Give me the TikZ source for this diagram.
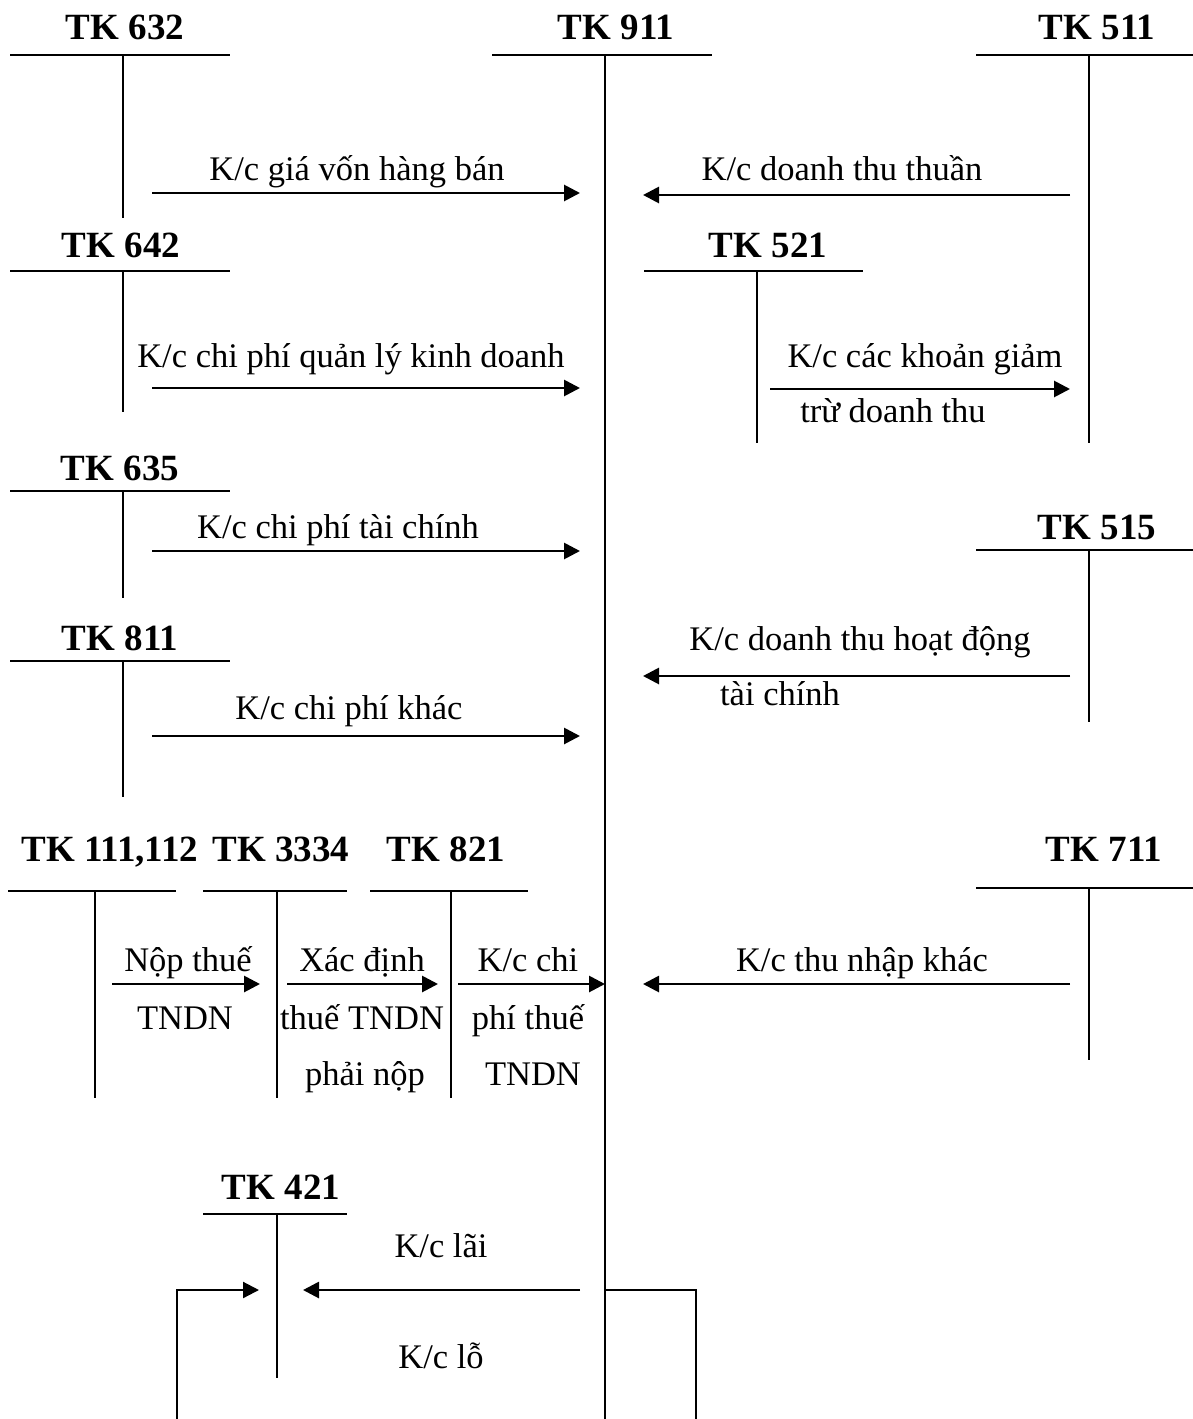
\documentclass[tikz,border=0pt]{standalone}
\usepackage{fontspec}
\setmainfont{Liberation Serif}
\usetikzlibrary{arrows.meta}
\begin{document}
\begin{tikzpicture}[x=1pt,y=-1pt,
  acc/.style={font=\fontsize{37}{41}\selectfont\bfseries, anchor=base, inner sep=0pt},
  lbl/.style={font=\fontsize{34.5}{38}\selectfont, anchor=base, inner sep=0pt},
  tline/.style={line width=2.2pt},
  flow/.style={line width=2.8pt, -{Triangle[length=16pt,width=16pt]}},
  plain/.style={line width=2.2pt}]
\useasboundingbox (0,0) rectangle (1193,1419);

% ---------- T accounts ----------
% TK 632
\node[acc] (t632) at (125,39) {TK 632};
\coordinate (h632a) at (10,55); \coordinate (h632b) at (230,55);
\coordinate (v632a) at (123,55); \coordinate (v632b) at (123,218);
\draw[tline] (h632a) -- (h632b); \draw[tline] (v632a) -- (v632b);
% TK 911
\node[acc] (t911) at (616,39) {TK 911};
\coordinate (h911a) at (492,55); \coordinate (h911b) at (712,55);
\coordinate (v911a) at (605,55); \coordinate (v911b) at (605,1419);
\draw[tline] (h911a) -- (h911b); \draw[tline] (v911a) -- (v911b);
% TK 511
\node[acc] (t511) at (1097,39) {TK 511};
\coordinate (h511a) at (976,55); \coordinate (h511b) at (1193,55);
\coordinate (v511a) at (1089,55); \coordinate (v511b) at (1089,443);
\draw[tline] (h511a) -- (h511b); \draw[tline] (v511a) -- (v511b);
% TK 642
\node[acc] (t642) at (121,257) {TK 642};
\coordinate (h642a) at (10,271); \coordinate (h642b) at (230,271);
\coordinate (v642a) at (123,271); \coordinate (v642b) at (123,412);
\draw[tline] (h642a) -- (h642b); \draw[tline] (v642a) -- (v642b);
% TK 521
\node[acc] (t521) at (768,257) {TK 521};
\coordinate (h521a) at (644,271); \coordinate (h521b) at (863,271);
\coordinate (v521a) at (757,271); \coordinate (v521b) at (757,443);
\draw[tline] (h521a) -- (h521b); \draw[tline] (v521a) -- (v521b);
% TK 635
\node[acc] (t635) at (120,480) {TK 635};
\coordinate (h635a) at (10,491); \coordinate (h635b) at (230,491);
\coordinate (v635a) at (123,491); \coordinate (v635b) at (123,598);
\draw[tline] (h635a) -- (h635b); \draw[tline] (v635a) -- (v635b);
% TK 515
\node[acc] (t515) at (1097,539) {TK 515};
\coordinate (h515a) at (976,550); \coordinate (h515b) at (1193,550);
\coordinate (v515a) at (1089,550); \coordinate (v515b) at (1089,722);
\draw[tline] (h515a) -- (h515b); \draw[tline] (v515a) -- (v515b);
% TK 811
\node[acc] (t811) at (120,650) {TK 811};
\coordinate (h811a) at (10,661); \coordinate (h811b) at (230,661);
\coordinate (v811a) at (123,661); \coordinate (v811b) at (123,797);
\draw[tline] (h811a) -- (h811b); \draw[tline] (v811a) -- (v811b);
% TK 111,112
\node[acc] (t111) at (110,861) {TK 111,112};
\coordinate (h111a) at (8,891); \coordinate (h111b) at (176,891);
\coordinate (v111a) at (95,891); \coordinate (v111b) at (95,1098);
\draw[tline] (h111a) -- (h111b); \draw[tline] (v111a) -- (v111b);
% TK 3334
\node[acc] (t3334) at (281,861) {TK 3334};
\coordinate (h3334a) at (203,891); \coordinate (h3334b) at (347,891);
\coordinate (v3334a) at (277,891); \coordinate (v3334b) at (277,1098);
\draw[tline] (h3334a) -- (h3334b); \draw[tline] (v3334a) -- (v3334b);
% TK 821
\node[acc] (t821) at (446,861) {TK 821};
\coordinate (h821a) at (370,891); \coordinate (h821b) at (528,891);
\coordinate (v821a) at (451,891); \coordinate (v821b) at (451,1098);
\draw[tline] (h821a) -- (h821b); \draw[tline] (v821a) -- (v821b);
% TK 711
\node[acc] (t711) at (1104,861) {TK 711};
\coordinate (h711a) at (976,888); \coordinate (h711b) at (1193,888);
\coordinate (v711a) at (1089,888); \coordinate (v711b) at (1089,1060);
\draw[tline] (h711a) -- (h711b); \draw[tline] (v711a) -- (v711b);
% TK 421
\node[acc] (t421) at (281,1199) {TK 421};
\coordinate (h421a) at (203,1214); \coordinate (h421b) at (347,1214);
\coordinate (v421a) at (277,1214); \coordinate (v421b) at (277,1378);
\draw[tline] (h421a) -- (h421b); \draw[tline] (v421a) -- (v421b);

% ---------- transfers ----------
\coordinate (a1s) at (152,193); \coordinate (a1e) at (580,193);
\draw[flow] (a1s) -- (a1e);
\node[lbl] (l1) at (357,180) {K/c giá vốn hàng bán};

\coordinate (a2s) at (1070,195); \coordinate (a2e) at (643,195);
\draw[flow] (a2s) -- (a2e);
\node[lbl] (l2) at (842,180) {K/c doanh thu thuần};

\coordinate (a3s) at (152,388); \coordinate (a3e) at (580,388);
\draw[flow] (a3s) -- (a3e);
\node[lbl] (l3) at (351,367) {K/c chi phí quản lý kinh doanh};

\coordinate (a4s) at (770,389); \coordinate (a4e) at (1070,389);
\draw[flow] (a4s) -- (a4e);
\node[lbl] (l4a) at (925,367) {K/c các khoản giảm};
\node[lbl] (l4b) at (893,422) {trừ doanh thu};

\coordinate (a5s) at (152,551); \coordinate (a5e) at (580,551);
\draw[flow] (a5s) -- (a5e);
\node[lbl] (l5) at (338,538) {K/c chi phí tài chính};

\coordinate (a6s) at (1070,676); \coordinate (a6e) at (643,676);
\draw[flow] (a6s) -- (a6e);
\node[lbl] (l6a) at (860,650) {K/c doanh thu hoạt động};
\node[lbl] (l6b) at (780,705) {tài chính};

\coordinate (a7s) at (152,736); \coordinate (a7e) at (580,736);
\draw[flow] (a7s) -- (a7e);
\node[lbl] (l7) at (349,719) {K/c chi phí khác};

\coordinate (a8s) at (112,984); \coordinate (a8e) at (260,984);
\draw[flow] (a8s) -- (a8e);
\node[lbl] (l8a) at (188,971) {Nộp thuế};
\node[lbl] (l8b) at (185,1029) {TNDN};

\coordinate (a9s) at (287,984); \coordinate (a9e) at (438,984);
\draw[flow] (a9s) -- (a9e);
\node[lbl] (l9a) at (362,971) {Xác định};
\node[lbl] (l9b) at (362,1029) {thuế TNDN};
\node[lbl] (l9c) at (365,1085) {phải nộp};

\coordinate (a10s) at (458,984); \coordinate (a10e) at (605,984);
\draw[flow] (a10s) -- (a10e);
\node[lbl] (l10a) at (528,971) {K/c chi};
\node[lbl] (l10b) at (528,1029) {phí thuế};
\node[lbl] (l10c) at (533,1085) {TNDN};

\coordinate (a11s) at (1070,984); \coordinate (a11e) at (643,984);
\draw[flow] (a11s) -- (a11e);
\node[lbl] (l11) at (862,971) {K/c thu nhập khác};

% profit / loss
\coordinate (a12s) at (580,1290); \coordinate (a12e) at (303,1290);
\draw[flow] (a12s) -- (a12e);
\node[lbl] (l12) at (441,1257) {K/c lãi};

\coordinate (ls1) at (605,1290); \coordinate (ls2) at (696,1290); \coordinate (ls3) at (696,1419);
\draw[plain] (ls1) -- (ls2) -- (ls3);
\coordinate (lr1) at (177,1419); \coordinate (lr2) at (177,1290); \coordinate (lr3) at (259,1290);
\draw[flow, line width=2.2pt] (lr1) -- (lr2) -- (lr3);
\node[lbl] (l13) at (441,1368) {K/c lỗ};
\end{tikzpicture}
\end{document}
